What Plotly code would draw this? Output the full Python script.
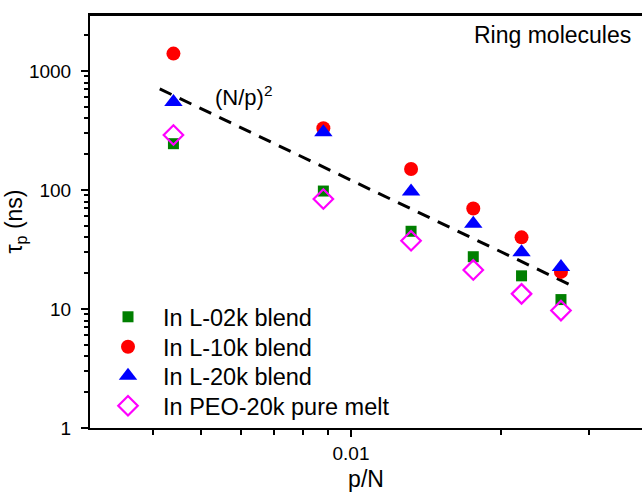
import plotly.graph_objects as go

# p/N values of the Rouse modes
p_over_n = [0.0044, 0.0088, 0.0132, 0.0176, 0.0220, 0.0264]

# relaxation times tau_p (ns) of the ring molecules in each matrix
tau_l02k = [245, 98, 45, 27.5, 19, 12]
tau_l10k = [1400, 330, 150, 70, 40, 20.5]
tau_l20k = [550, 305, 97, 52, 30, 22.5]
tau_peo20k = [290, 84, 37.5, 21.3, 13.4, 9.7]

# (N/p)^2 guide line end points
guide_x = [0.00413, 0.0277]
guide_y = [707, 15.8]

series_names = ["In L-02k blend", "In L-10k blend", "In L-20k blend", "In PEO-20k pure melt"]

FONT = "Arial, Liberation Sans, sans-serif"
W, H = 642, 492
ML, MR, MT, MB = 90, 0, 15, 64
PW, PH = W - ML - MR, H - MT - MB


def px_to_paper(x, y):
    return (x - ML) / PW, (H - MB - y) / PH


fig = go.Figure()

fig.add_trace(go.Scatter(
    x=guide_x, y=guide_y, mode="lines",
    line=dict(color="black", width=3, dash="13px,9px"),
    showlegend=False, hoverinfo="skip"))

styles = [
    dict(symbol="square", size=11, color="#007f00"),
    dict(symbol="circle", size=14, color="#ff0000"),
    dict(symbol="triangle-up", size=16, color="#0000ff"),
    dict(symbol="diamond-open", size=15, color="#ff00ff", line=dict(width=2.2, color="#ff00ff")),
]
series = [tau_l02k, tau_l10k, tau_l20k, tau_peo20k]
legend_ids = ["legend", "legend2", "legend3", "legend4"]
row_centers = [317, 347, 376, 406]

for name, vals, st, lid in zip(series_names, series, styles, legend_ids):
    fig.add_trace(go.Scatter(x=p_over_n, y=vals, mode="markers", name=name,
                             marker=st, legend=lid))

legend_layout = {}
for lid, yc in zip(legend_ids, row_centers):
    lx, ly = px_to_paper(93, yc)
    legend_layout[lid] = dict(x=lx, y=ly, xanchor="left", yanchor="middle",
                              bgcolor="rgba(0,0,0,0)", itemwidth=60,
                              font=dict(family=FONT, size=23.5, color="black"))

rx, ry = px_to_paper(633, 35)
fig.add_annotation(x=rx, y=ry, xref="paper", yref="paper", text="Ring molecules",
                   showarrow=False, xanchor="right", yanchor="middle",
                   font=dict(family=FONT, size=23, color="black"))
nx, ny = px_to_paper(213, 96)
fig.add_annotation(x=nx, y=ny, xref="paper", yref="paper", text="(N/p)<sup>2</sup>",
                   showarrow=False, xanchor="left", yanchor="middle",
                   font=dict(family=FONT, size=22, color="black"))

fig.update_layout(
    width=W, height=H,
    margin=dict(l=ML, r=MR, t=MT, b=MB, pad=0),
    plot_bgcolor="white", paper_bgcolor="white",
    font=dict(family=FONT, color="black"),
    xaxis=dict(
        type="log", range=[-2.5241, -1.4157],
        showline=True, linecolor="black", linewidth=2, mirror=True,
        showgrid=False, zeroline=False,
        ticks="outside", ticklen=7, tickwidth=2, tickcolor="black",
        tickvals=[0.01], ticktext=["0.01"],
        tickfont=dict(family=FONT, size=19, color="black"),
        ticklabelstandoff=0,
        minor=dict(ticks="outside", ticklen=5, tickwidth=2, tickcolor="black",
                   tickvals=[0.004, 0.005, 0.006, 0.007, 0.008, 0.009, 0.02, 0.03],
                   showgrid=False),
        title=dict(text="p/N", font=dict(family=FONT, size=23, color="black"), standoff=12),
    ),
    yaxis=dict(
        type="log", range=[0, 3.4706],
        showline=True, linecolor="black", linewidth=2, mirror=False,
        showgrid=False, zeroline=False,
        ticks="outside", ticklen=7, tickwidth=2, tickcolor="black",
        tickvals=[1, 10, 100, 1000], ticktext=["1", "10", "100", "1000"],
        tickfont=dict(family=FONT, size=19, color="black"),
        ticklabelstandoff=6,
        minor=dict(ticks="outside", ticklen=4, tickwidth=1.5, tickcolor="black",
                   tickvals=[m * 10 ** k for k in range(4) for m in range(2, 10)],
                   showgrid=False),
        title=dict(text="τ<sub>p</sub> (ns)", font=dict(family=FONT, size=23, color="black"), standoff=0),
    ),
    **legend_layout,
)

# top frame line only (no right spine)
fig.add_shape(type="line", xref="paper", yref="paper", x0=0, x1=1, y0=1, y1=1,
              line=dict(color="black", width=2))

fig.write_html("out.html")
